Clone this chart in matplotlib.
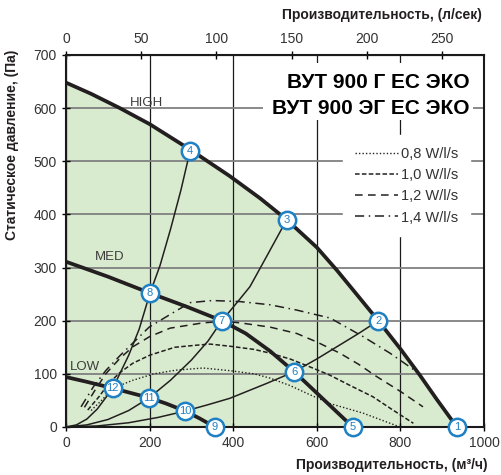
import numpy as np
import matplotlib
matplotlib.use("Agg")
from matplotlib import pyplot as plt
from matplotlib.patches import Rectangle

plt.rcParams['font.family'] = ['Liberation Sans', 'DejaVu Sans']

# fan curves (m3/h, Pa)
high_x = [0, 60, 129, 200, 297, 392, 465, 528, 600, 648, 695, 747, 800, 847, 887, 935]
high_y = [648, 627, 600, 570, 522, 472, 430, 390, 338, 295, 250, 200, 147, 97, 52, 0]
med_x = [0, 100, 201, 290, 373, 430, 488, 546, 616, 686]
med_y = [311, 283, 252, 226, 200, 176, 143, 104, 52, 0]
low_x = [0, 50, 112, 160, 199, 240, 285, 320, 356]
low_y = [94, 85, 73, 63, 55, 44, 30, 16, 0]

# system curves through the working points
sys_a_x = [0, 25, 50, 75, 112, 150, 175, 201, 225, 250, 275, 297]
sys_a_y = [0, 4, 15, 34, 73, 135, 184, 252, 304, 372, 446, 520]
sys_b_x = [0, 50, 100, 150, 199, 250, 300, 340, 373, 410, 440, 480, 528]
sys_b_y = [0, 4, 14, 31, 55, 88, 126, 162, 200, 235, 264, 321, 390]
sys_c_x = [0, 75, 150, 220, 285, 340, 392, 480, 546, 600, 648, 700, 747]
sys_c_y = [0, 2, 8, 18, 30, 42, 54, 82, 104, 128, 151, 176, 200]

# specific fan power lines
p08_x = [60, 85, 112, 160, 210, 263, 328, 392, 450, 488, 536, 580, 632, 711, 799]
p08_y = [31, 50, 73, 88, 100, 107, 111, 106, 100, 92, 78, 62, 44, 26, 0]
p10_x = [52, 80, 103, 130, 160, 200, 260, 313, 345, 392, 450, 488, 536, 584, 630, 680, 734, 780, 831]
p10_y = [32, 58, 83, 103, 120, 135, 150, 154, 156, 152, 146, 139, 128, 113, 98, 78, 57, 33, 7]
p12_x = [44, 70, 96, 130, 160, 200, 249, 328, 380, 416, 488, 552, 600, 655, 700, 743, 800, 854]
p12_y = [37, 70, 101, 130, 151, 170, 186, 196, 199, 196, 188, 176, 160, 139, 118, 95, 67, 38]
p14_x = [36, 65, 96, 130, 160, 199, 256, 297, 350, 416, 488, 552, 632, 711, 775, 839]
p14_y = [38, 75, 107, 135, 158, 188, 215, 234, 238, 236, 230, 220, 205, 170, 139, 104]

# numbered working points
pt_num = [1, 2, 3, 4, 5, 6, 7, 8, 9, 10, 11, 12]
pt_x = [935, 747, 528, 297, 686, 546, 373, 201, 356, 285, 199, 112]
pt_y = [0, 200, 390, 520, 0, 104, 200, 252, 0, 30, 55, 73]

green = '#d9ebcf'
blue = '#1f80c4'
dark = '#231f20'

fig = plt.figure(figsize=(5.01, 4.75), dpi=100)
ax = fig.add_axes([66/501, 48/475, 418/501, 372/475])

ax.fill_between(high_x, high_y, 0, color=green, lw=0, zorder=0.5)

ax.set_xlim(0, 1000)
ax.set_ylim(0, 700)
ax.set_xticks(range(0, 1001, 200))
ax.set_yticks(range(0, 701, 100))
ax.xaxis.grid(True, color='#1a1a1a', lw=0.9)
ax.yaxis.grid(True, color='#808080', lw=1.3)

# white box behind the title
ax.add_patch(Rectangle((0.471, 0.825), 0.503, 0.153, transform=ax.transAxes,
                       facecolor='white', edgecolor='none', zorder=1.8))

ax.plot(sys_a_x, sys_a_y, color=dark, lw=1.1, zorder=2)
ax.plot(sys_b_x, sys_b_y, color=dark, lw=1.1, zorder=2)
ax.plot(sys_c_x, sys_c_y, color=dark, lw=1.1, zorder=2)

ax.plot(p08_x, p08_y, color=dark, lw=1.0, ls=(0, (1, 1.5)), zorder=2, label='0,8 W/l/s')
ax.plot(p10_x, p10_y, color=dark, lw=1.1, ls=(0, (3, 1.5)), zorder=2, label='1,0 W/l/s')
ax.plot(p12_x, p12_y, color=dark, lw=1.1, ls=(0, (5, 3.5)), zorder=2, label='1,2 W/l/s')
ax.plot(p14_x, p14_y, color=dark, lw=1.1, ls=(0, (6, 3, 1, 3)), zorder=2, label='1,4 W/l/s')

ax.plot(high_x, high_y, color=dark, lw=2.7, zorder=3, solid_capstyle='butt', solid_joinstyle='round')
ax.plot(med_x, med_y, color=dark, lw=2.7, zorder=3, solid_capstyle='butt', solid_joinstyle='round')
ax.plot(low_x, low_y, color=dark, lw=2.7, zorder=3, solid_capstyle='butt', solid_joinstyle='round')

ax.text(153, 610, 'HIGH', fontsize=9.5, color='#3c3c3c', va='center')
ax.text(69, 319, 'MED', fontsize=9.5, color='#3c3c3c', va='center')
ax.text(10, 112, 'LOW', fontsize=9.5, color='#3c3c3c', va='center')

ax.plot(pt_x, pt_y, 'o', ms=12.5, mfc='white', mec=blue, mew=1.8, zorder=6, clip_on=False)
for n, x, y in zip(pt_num, pt_x, pt_y):
    ax.text(x, y, str(n), fontsize=8, color=blue, ha='center', va='center', zorder=7)

ax.text(0.9665, 0.927, 'ВУТ 900 Г ЕС ЭКО', transform=ax.transAxes, fontsize=15,
        fontweight='bold', ha='right', va='center', zorder=4)
ax.text(0.9665, 0.857, 'ВУТ 900 ЭГ ЕС ЭКО', transform=ax.transAxes, fontsize=15,
        fontweight='bold', ha='right', va='center', zorder=4)

leg = ax.legend(loc='upper right', bbox_to_anchor=(0.967, 0.785), borderaxespad=0,
                fontsize=10.5, handlelength=2.95, handletextpad=0.25, labelspacing=0.5,
                frameon=True, facecolor='white', edgecolor='white', framealpha=1,
                fancybox=False, borderpad=0.8)
for t in leg.get_texts():
    t.set_color('#333333')
leg.set_zorder(4)

for s in ax.spines.values():
    s.set_linewidth(1.5)
    s.set_color('#1a1a1a')
    s.set_zorder(5)

ax.tick_params(direction='inout', length=6, width=1, labelsize=10, labelcolor='#333333')

sec = ax.secondary_xaxis('top', functions=(lambda q: q / 3.6, lambda l: l * 3.6))
sec.set_xticks(range(0, 251, 50))
sec.tick_params(direction='inout', length=6, width=1, labelsize=10, labelcolor='#333333')

fig.text(482/501, 1 - 15/475, 'Производительность, (л/сек)', fontsize=10,
         fontweight='bold', ha='right', va='center', color='#231f20')
fig.text(488/501, 1 - 465/475, 'Производительность, (м³/ч)', fontsize=10,
         fontweight='bold', ha='right', va='center', color='#231f20')
fig.text(12/501, 1 - 145/475, 'Статическое давление, (Па)', fontsize=10,
         fontweight='bold', rotation=90, ha='center', va='center', color='#231f20')

fig.savefig('out.png', dpi=100)
